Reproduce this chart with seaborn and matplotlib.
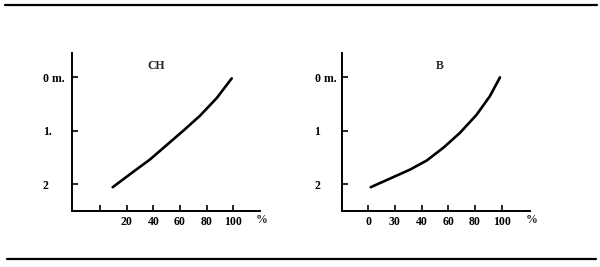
import matplotlib
matplotlib.use("Agg")
import matplotlib.pyplot as plt
import seaborn as sns
import pandas as pd

# Data (percent vs depth in metres)
ch_pct = [9.5, 25.0, 37.5, 50.0, 62.5, 75.0, 87.5, 98.8]
ch_depth = [2.06, 1.77, 1.54, 1.27, 1.00, 0.72, 0.39, 0.02]

b_pct = [1.8, 18.8, 31.3, 43.8, 56.3, 68.8, 81.3, 91.3, 98.8]
b_depth = [2.06, 1.87, 1.73, 1.56, 1.32, 1.04, 0.70, 0.35, 0.0]

x_ticks = [0, 20, 40, 60, 80, 100]
ch_xlabels = ["", "20", "40", "60", "80", "100"]
b_xlabels = ["0", "30", "40", "60", "80", "100"]
y_ticks = [0, 1, 2]
ch_ylabels = ["0 m.", "1.", "2"]
b_ylabels = ["0 m.", "1", "2"]
titles = ["CH", "B"]

sns.set_style("white")
plt.rcParams["font.family"] = ["Liberation Serif", "DejaVu Serif"]

fig = plt.figure(figsize=(6.0, 2.67), dpi=100)

FS = 8.5

def panel(rect, pct, depth, xl, yl, title, title_x, xlim, ypad):
    ax = fig.add_axes(rect)
    df = pd.DataFrame({"pct": pct, "depth": depth})
    sns.lineplot(data=df, x="pct", y="depth", ax=ax, color="black", lw=1.9, sort=False)
    ax.set_xlim(*xlim)
    ax.set_ylim(2.5, -0.456)
    for s in ["top", "right"]:
        ax.spines[s].set_visible(False)
    for s in ["left", "bottom"]:
        ax.spines[s].set_linewidth(1.4)
        ax.spines[s].set_color("black")
    ax.set_xticks(x_ticks)
    ax.set_xticklabels(xl, fontsize=FS, fontweight="bold")
    ax.set_yticks(y_ticks)
    ax.set_yticklabels(yl, fontsize=FS, fontweight="bold", ha="left")
    ax.tick_params(axis="both", direction="in", length=4, width=1.2, colors="black",
                   bottom=True, left=True)
    ax.tick_params(axis="y", pad=ypad)
    ax.tick_params(axis="x", pad=4)
    ax.set_xlabel("")
    ax.set_ylabel("")
    ax.text(title_x, -0.22, title, fontsize=FS, fontweight="bold", ha="center", va="center")
    ax.text(1.01, -0.02, "%", transform=ax.transAxes, fontsize=FS, fontweight="bold",
            ha="center", va="top")
    return ax

panel([0.12, 0.2109, 0.3133, 0.5906], ch_pct, ch_depth, ch_xlabels, ch_ylabels,
      titles[0], 42, (-21, 120), 21)
panel([0.5705, 0.2109, 0.3128, 0.5906], b_pct, b_depth, b_xlabels, b_ylabels,
      titles[1], 54, (-19.5, 121.3), 20)

# horizontal rules at top and bottom
fig.add_artist(plt.Line2D([0.008, 0.995], [1 - 5 / 267, 1 - 5 / 267], color="black", lw=1.6))
fig.add_artist(plt.Line2D([0.012, 0.993], [1 - 259 / 267, 1 - 259 / 267], color="black", lw=1.6))

fig.savefig("out.png", dpi=100, facecolor="white")
